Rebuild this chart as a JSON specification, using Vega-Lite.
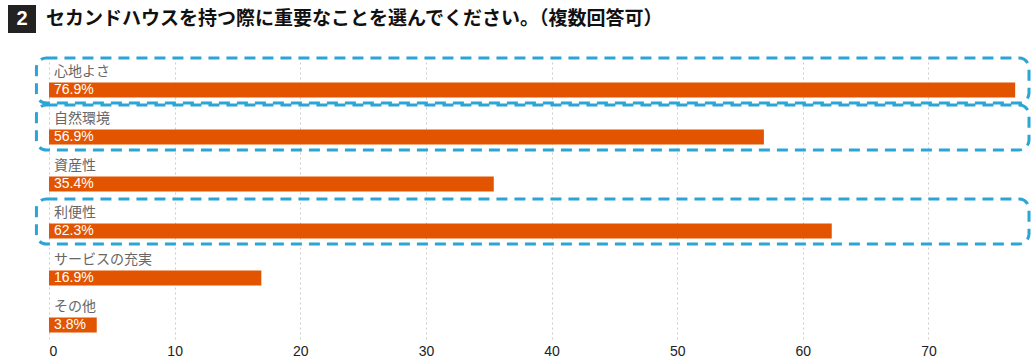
{
  "$schema": "https://vega.github.io/schema/vega-lite/v6.json",
  "width": 980,
  "height": 282,
  "autosize": "none",
  "padding": {"left": 49, "top": 57, "right": 5, "bottom": 25},
  "background": "white",
  "config": {"view": {"stroke": null}},
  "data": {
    "values": [
      {"item": "心地よさ", "value": 76.9, "pct": "76.9%", "hl": true},
      {"item": "自然環境", "value": 56.9, "pct": "56.9%", "hl": true},
      {"item": "資産性", "value": 35.4, "pct": "35.4%", "hl": false},
      {"item": "利便性", "value": 62.3, "pct": "62.3%", "hl": true},
      {"item": "サービスの充実", "value": 16.9, "pct": "16.9%", "hl": false},
      {"item": "その他", "value": 3.8, "pct": "3.8%", "hl": false}
    ]
  },
  "encoding": {
    "y": {"field": "item", "type": "nominal", "sort": null, "axis": null, "scale": {"paddingInner": 0, "paddingOuter": 0}}
  },
  "layer": [
    {
      "mark": {"type": "bar", "color": "#E25400", "size": 15, "yOffset": 9.5},
      "encoding": {
        "x": {
          "field": "value", "type": "quantitative",
          "scale": {"domain": [0, 78], "nice": false},
          "axis": {
            "values": [0, 10, 20, 30, 40, 50, 60, 70],
            "grid": true, "gridDash": [2, 3], "gridColor": "#cccccc",
            "domain": false, "ticks": false, "title": null,
            "labelFontSize": 14, "labelColor": "#222222", "labelFont": "Liberation Sans",
            "labelPadding": 5
          }
        }
      }
    },
    {
      "transform": [{"filter": "datum.hl"}],
      "mark": {"type": "rect", "filled": false, "stroke": "#2AA5D6", "strokeWidth": 3, "strokeDash": [11, 7], "cornerRadius": 10, "height": {"band": 0.96}},
      "encoding": {
        "x": {"datum": -1, "type": "quantitative", "scale": {"domain": [0, 78], "nice": false}},
        "x2": {"datum": 78}
      }
    },
    {
      "mark": {"type": "text", "align": "left", "baseline": "middle", "dx": 5, "fontSize": 14, "color": "#666666", "font": "Noto Sans CJK JP"},
      "encoding": {
        "x": {"datum": 0, "type": "quantitative", "scale": {"domain": [0, 78], "nice": false}},
        "y": {"field": "item", "type": "nominal", "sort": null, "bandPosition": 0.32},
        "text": {"field": "item"}
      }
    },
    {
      "mark": {"type": "text", "align": "left", "baseline": "middle", "dx": 5, "fontSize": 14, "color": "#ffffff", "font": "Liberation Sans"},
      "encoding": {
        "x": {"datum": 0, "type": "quantitative", "scale": {"domain": [0, 78], "nice": false}},
        "y": {"field": "item", "type": "nominal", "sort": null, "bandPosition": 0.70},
        "text": {"field": "pct"}
      }
    },
    {
      "data": {"values": [{"num": "2", "title": "セカンドハウスを持つ際に重要なことを選んでください。（複数回答可）"}]},
      "layer": [
        {
          "mark": {"type": "square", "size": 784, "color": "#222222", "opacity": 1, "yOffset": -38},
          "encoding": {
            "x": {"datum": -2.15, "type": "quantitative", "scale": {"domain": [0, 78], "nice": false}},
            "y": {"datum": "心地よさ", "type": "nominal", "bandPosition": 0}
          }
        },
        {
          "mark": {"type": "text", "align": "center", "baseline": "middle", "fontSize": 20, "fontWeight": "bold", "color": "#ffffff", "font": "Liberation Sans", "yOffset": -38},
          "encoding": {
            "x": {"datum": -2.15, "type": "quantitative", "scale": {"domain": [0, 78], "nice": false}},
            "y": {"datum": "心地よさ", "type": "nominal", "bandPosition": 0},
            "text": {"field": "num"}
          }
        },
        {
          "mark": {"type": "text", "align": "left", "baseline": "middle", "fontSize": 19, "fontWeight": "bold", "color": "#111111", "font": "Noto Sans CJK JP", "yOffset": -38},
          "encoding": {
            "x": {"datum": -0.24, "type": "quantitative", "scale": {"domain": [0, 78], "nice": false}},
            "y": {"datum": "心地よさ", "type": "nominal", "bandPosition": 0},
            "text": {"field": "title"}
          }
        }
      ]
    }
  ]
}
